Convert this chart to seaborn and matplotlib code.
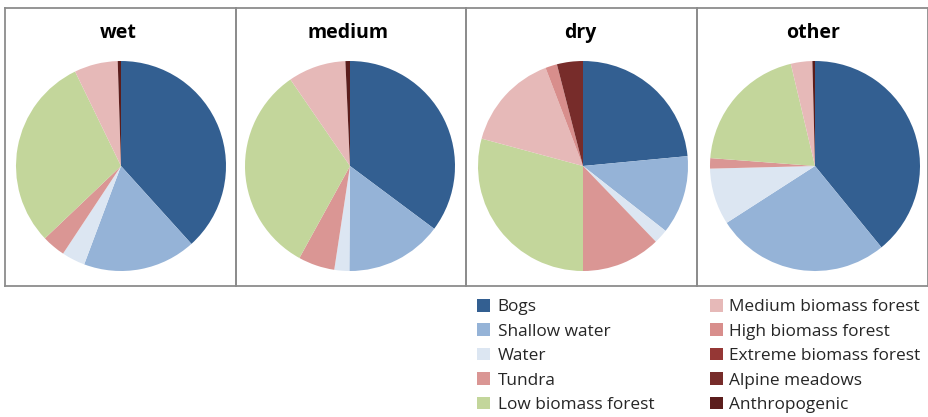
import matplotlib
matplotlib.use('Agg')
import matplotlib.pyplot as plt
import seaborn as sns
from matplotlib.patches import Patch

# Land cover classes (order of slices, clockwise from 12 o'clock)
classes = ['Bogs', 'Shallow water', 'Water', 'Tundra', 'Low biomass forest',
           'Medium biomass forest', 'High biomass forest', 'Extreme biomass forest',
           'Alpine meadows', 'Anthropogenic']
class_colors = ['#335F91', '#95B3D7', '#DCE6F2', '#DA9694', '#C3D69B',
                '#E6B9B8', '#D88E8C', '#953735', '#772C2A', '#5B1D1C']

# Percent shares per condition
wet = [38.3, 17.4, 3.6, 3.6, 29.9, 6.7, 0.0, 0.0, 0.0, 0.5]
medium = [35.2, 14.9, 2.3, 5.6, 32.4, 8.9, 0.0, 0.0, 0.0, 0.7]
dry = [23.5, 12.1, 2.2, 12.2, 29.2, 15.0, 1.8, 0.0, 4.0, 0.0]
other = [39.1, 26.8, 8.7, 1.6, 20.1, 3.3, 0.0, 0.0, 0.0, 0.4]

panel_titles = ['wet', 'medium', 'dry', 'other']
panel_values = [wet, medium, dry, other]

sns.set_theme(style='white')
plt.rcParams['font.family'] = ['Open Sans', 'DejaVu Sans']
palette = sns.color_palette(class_colors)

W, H = 929, 417
fig = plt.figure(figsize=(W / 100, H / 100), dpi=100)
fig.patch.set_facecolor('white')

# panel frames in pixels (left, right), pie centres
frames = [(5, 236), (236, 466), (466, 697), (697, 928)]
centres = [121, 350, 583, 815]
top_px, bottom_px = 8, 286
cy = 166
r = 105

for (x0, x1), cx, title, vals in zip(frames, centres, panel_titles, panel_values):
    frame_ax = fig.add_axes([x0 / W, 1 - bottom_px / H, (x1 - x0) / W, (bottom_px - top_px) / H])
    frame_ax.set_xticks([])
    frame_ax.set_yticks([])
    frame_ax.patch.set_alpha(0)
    for sp in frame_ax.spines.values():
        sp.set_color('#8c8c8c')
        sp.set_linewidth(1.3)
    frame_ax.text((cx - x0) / (x1 - x0) - 0.01, (bottom_px - 33) / (bottom_px - top_px), title,
                  transform=frame_ax.transAxes, ha='center', va='center',
                  fontsize=14, fontweight='bold', color='black')

    pie_ax = fig.add_axes([(cx - r) / W, (H - cy - r) / H, 2 * r / W, 2 * r / H])
    pie_ax.pie(vals, colors=palette, startangle=90, counterclock=False,
               wedgeprops=dict(linewidth=0))
    pie_ax.set_xlim(-1, 1)
    pie_ax.set_ylim(-1, 1)
    pie_ax.axis('off')

handles = [Patch(facecolor=c, edgecolor='none') for c in palette]
leg_kw = dict(loc='upper left', frameon=False, fontsize=12.4, handlelength=0.75,
              handleheight=0.75, labelspacing=0.47, borderaxespad=0, borderpad=0)
leg1 = fig.legend(handles[:5], classes[:5], bbox_to_anchor=(477 / W, 1 - 299 / H),
                  handletextpad=0.45, **leg_kw)
leg2 = fig.legend(handles[5:], classes[5:], bbox_to_anchor=(710 / W, 1 - 299 / H),
                  handletextpad=0.35, **leg_kw)

fig.savefig('out.png', dpi=100, facecolor='white')
